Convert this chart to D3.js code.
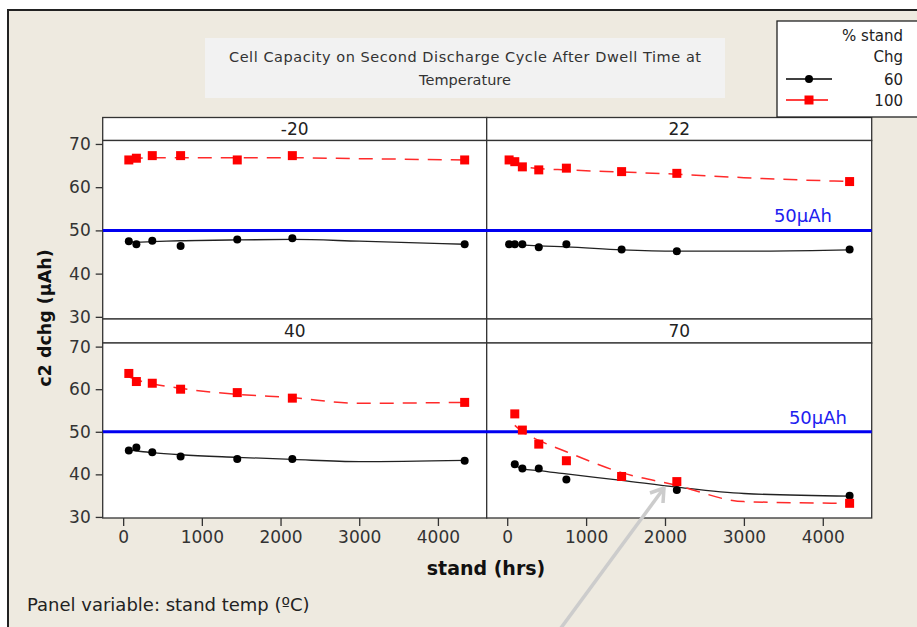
<!DOCTYPE html>
<html>
<head>
<meta charset="utf-8">
<style>
  body { margin: 0; background: #fff; }
  svg { display: block; font-family: "DejaVu Sans", sans-serif; }
</style>
</head>
<body>
<svg width="917" height="627"></svg>
<script src="https://d3js.org/d3.v7.min.js"></script>
<script>

// stand temperature panels (°C)
var panelTemps = ["-20", "22", "40", "70"];

// stand time (hrs) for the points in each panel
var hoursLeft = [72, 168, 370, 730, 1450, 2150, 4340];
var hours22 = [24, 96, 192, 400, 750, 1450, 2150, 4340];
var hours70 = [96, 192, 400, 750, 1450, 2150, 4340];
var fitExtraHour = 3000;

// c2 dchg (µAh), 60 % stand charge
var chg60_m20 = [47.5, 46.8, 47.6, 46.4, 47.9, 48.2, 46.8];
var chg60_22 = [46.8, 46.8, 46.8, 46.1, 46.8, 45.6, 45.2, 45.6];
var chg60_40 = [45.6, 46.3, 45.2, 44.2, 43.6, 43.6, 43.2];
var chg60_70 = [42.4, 41.4, 41.4, 38.8, 39.4, 36.3, 35.0];

// c2 dchg (µAh), 100 % stand charge
var chg100_m20 = [66.3, 66.7, 67.3, 67.3, 66.3, 67.3, 66.3];
var chg100_22 = [66.3, 65.9, 64.7, 64.0, 64.4, 63.6, 63.2, 61.3];
var chg100_40 = [63.7, 61.8, 61.4, 60.0, 59.2, 57.9, 56.9];
var chg100_70 = [54.2, 50.4, 47.1, 43.2, 39.5, 38.3, 33.2];

// smoothed fit lines (at the point hours, with the 3000 hr value before the last)
var fit60_m20 = [47.3, 47.3, 47.4, 47.6, 47.8, 47.9, 47.5, 46.8];
var fit60_22 = [46.8, 46.7, 46.6, 46.4, 46.2, 45.5, 45.2, 45.2, 45.5];
var fit60_40 = [45.7, 45.5, 45.1, 44.6, 44.0, 43.5, 43.0, 43.3];
var fit60_70 = [42.2, 41.3, 40.9, 40.1, 38.6, 37.0, 35.5, 34.9];
var fit100_m20 = [66.5, 66.7, 66.8, 66.8, 66.8, 66.8, 66.6, 66.3];
var fit100_22 = [66.2, 65.5, 64.8, 64.3, 64.0, 63.5, 63.0, 62.2, 61.3];
var fit100_40 = [62.9, 62.2, 61.3, 60.2, 58.8, 58.0, 56.7, 56.9];
var fit100_70 = [51.5, 50.0, 48.0, 45.3, 40.4, 37.4, 33.6, 33.2];

var yTicks = [30, 40, 50, 60, 70];
var xTicks = [0, 1000, 2000, 3000, 4000];
var refLevel = 50;

var panels = [
  {temp: panelTemps[0], col: 0, row: 0, hours: hoursLeft, c60: chg60_m20, c100: chg100_m20, f60: fit60_m20, f100: fit100_m20},
  {temp: panelTemps[1], col: 1, row: 0, hours: hours22, c60: chg60_22, c100: chg100_22, f60: fit60_22, f100: fit100_22},
  {temp: panelTemps[2], col: 0, row: 1, hours: hoursLeft, c60: chg60_40, c100: chg100_40, f60: fit60_40, f100: fit100_40},
  {temp: panelTemps[3], col: 1, row: 1, hours: hours70, c60: chg60_70, c100: chg100_70, f60: fit60_70, f100: fit100_70}
];

var svg = d3.select("svg");

// background and frame
svg.append("rect").attr("x", 8).attr("y", 10).attr("width", 940).attr("height", 640)
    .attr("fill", "#eeeae0").attr("stroke", "#222").attr("stroke-width", 2);

// title box
svg.append("rect").attr("x", 205).attr("y", 38).attr("width", 520).attr("height", 60)
    .attr("fill", "#f2f2f2");
var title = svg.append("text").attr("text-anchor", "middle").attr("font-size", 14.5)
    .attr("fill", "#333");
title.append("tspan").attr("x", 465).attr("y", 62)
    .attr("textLength", 472).attr("lengthAdjust", "spacing")
    .text("Cell Capacity on Second Discharge Cycle After Dwell Time at");
title.append("tspan").attr("x", 465).attr("y", 85).text("Temperature");

// layout of the 2x2 panels
var colX = [[102.7, 486.7], [486.7, 871.7]];
var rows = [
  {strip: 117.5, top: 140.5, bottom: 319, dom: [29.5, 70.8]},
  {strip: 319, top: 343, bottom: 518, dom: [29.75, 70.85]}
];
var refLabelEnd = [832, 847];

var x = colX.map(function(c) {
  return d3.scaleLinear().domain([-260, 4620]).range(c);
});
var y = rows.map(function(r) {
  return d3.scaleLinear().domain(r.dom).range([r.bottom, r.top]);
});

panels.forEach(function(p) {
  var c = colX[p.col], r = rows[p.row];
  svg.append("rect").attr("x", c[0]).attr("y", r.strip)
      .attr("width", c[1] - c[0]).attr("height", r.top - r.strip)
      .attr("fill", "#fff").attr("stroke", "#333").attr("stroke-width", 1.3);
  svg.append("rect").attr("x", c[0]).attr("y", r.top)
      .attr("width", c[1] - c[0]).attr("height", r.bottom - r.top)
      .attr("fill", "#fff").attr("stroke", "#333").attr("stroke-width", 1.3);
  svg.append("text").attr("x", (c[0] + c[1]) / 2).attr("y", r.strip + 17.5)
      .attr("text-anchor", "middle").attr("font-size", 17).attr("fill", "#222")
      .text(p.temp);
});

// reference line at 50 µAh
rows.forEach(function(r, i) {
  var yy = y[i](refLevel);
  svg.append("line").attr("x1", colX[0][0]).attr("x2", colX[1][1])
      .attr("y1", yy).attr("y2", yy)
      .attr("stroke", "#0000f0").attr("stroke-width", 3);
  svg.append("text").attr("x", refLabelEnd[i]).attr("y", yy - 8)
      .attr("text-anchor", "end").attr("font-size", 18).attr("fill", "#2020f0")
      .text("50µAh");
});

// fitted lines and points
panels.forEach(function(p) {
  var xs = x[p.col], ys = y[p.row];
  var fitHours = p.hours.slice(0, -1).concat([fitExtraHour, p.hours[p.hours.length - 1]]);
  var line = d3.line()
      .x(function(d, i) { return xs(fitHours[i]); })
      .y(function(d) { return ys(d); })
      .curve(d3.curveMonotoneX);

  svg.append("path").attr("d", line(p.f60))
      .attr("fill", "none").attr("stroke", "#222").attr("stroke-width", 1.3);
  svg.append("path").attr("d", line(p.f100))
      .attr("fill", "none").attr("stroke", "#ff2a2a").attr("stroke-width", 1.5)
      .attr("stroke-dasharray", "14,9");

  svg.append("g").selectAll("circle").data(p.c60).join("circle")
      .attr("cx", function(d, i) { return xs(p.hours[i]); })
      .attr("cy", function(d) { return ys(d); })
      .attr("r", 4).attr("fill", "#000");
  svg.append("g").selectAll("rect").data(p.c100).join("rect")
      .attr("x", function(d, i) { return xs(p.hours[i]) - 4.5; })
      .attr("y", function(d) { return ys(d) - 4.5; })
      .attr("width", 9).attr("height", 9).attr("fill", "#ff0000");
});

// axes
rows.forEach(function(r, i) {
  var g = svg.append("g").attr("transform", "translate(" + colX[0][0] + ",0)")
      .call(d3.axisLeft(y[i]).tickValues(yTicks).tickSize(7).tickPadding(5));
  g.select(".domain").remove();
  g.selectAll("line").attr("stroke", "#333").attr("stroke-width", 1.3);
  g.selectAll("text").attr("font-size", 17).attr("fill", "#333")
      .attr("font-family", "DejaVu Sans, sans-serif");
});
x.forEach(function(xs) {
  var g = svg.append("g").attr("transform", "translate(0," + rows[1].bottom + ")")
      .call(d3.axisBottom(xs).tickValues(xTicks).tickFormat(d3.format("d"))
        .tickSize(8).tickPadding(5));
  g.select(".domain").remove();
  g.selectAll("line").attr("stroke", "#333").attr("stroke-width", 1.3);
  g.selectAll("text").attr("font-size", 17).attr("fill", "#333")
      .attr("font-family", "DejaVu Sans, sans-serif");
});

svg.append("text").attr("x", 486).attr("y", 575).attr("text-anchor", "middle")
    .attr("font-size", 19).attr("font-weight", "bold").attr("fill", "#111")
    .text("stand (hrs)");
svg.append("text").attr("transform", "translate(51,318) rotate(-90)")
    .attr("text-anchor", "middle").attr("font-size", 17.5).attr("font-weight", "bold")
    .attr("fill", "#111").text("c2 dchg (µAh)");

svg.append("text").attr("x", 27).attr("y", 611).attr("font-size", 18)
    .attr("fill", "#222").text("Panel variable: stand temp (ºC)");

// legend
var lg = svg.append("g");
lg.append("rect").attr("x", 777).attr("y", 21).attr("width", 160).attr("height", 96)
    .attr("fill", "#fff").attr("stroke", "#222").attr("stroke-width", 1.3);
lg.append("text").attr("x", 903).attr("y", 41).attr("text-anchor", "end")
    .attr("font-size", 15).attr("fill", "#222").text("% stand");
lg.append("text").attr("x", 903).attr("y", 62).attr("text-anchor", "end")
    .attr("font-size", 15).attr("fill", "#222").text("Chg");
lg.append("line").attr("x1", 786).attr("x2", 832).attr("y1", 79).attr("y2", 79)
    .attr("stroke", "#000").attr("stroke-width", 1.3);
lg.append("circle").attr("cx", 809).attr("cy", 79).attr("r", 4).attr("fill", "#000");
lg.append("text").attr("x", 903).attr("y", 84.5).attr("text-anchor", "end")
    .attr("font-size", 15).attr("fill", "#222").text("60");
lg.append("line").attr("x1", 786).attr("x2", 828).attr("y1", 100).attr("y2", 100)
    .attr("stroke", "#ff0000").attr("stroke-width", 1.3);
lg.append("rect").attr("x", 804.5).attr("y", 95.5).attr("width", 9).attr("height", 9)
    .attr("fill", "#ff0000");
lg.append("text").attr("x", 903).attr("y", 105.5).attr("text-anchor", "end")
    .attr("font-size", 15).attr("fill", "#222").text("100");

// grey annotation arrow
svg.append("line").attr("x1", 558).attr("y1", 632).attr("x2", 664).attr("y2", 488)
    .attr("stroke", "#cccccc").attr("stroke-width", 3.5);
svg.append("polyline").attr("points", "650,493 664,488 663,503")
    .attr("fill", "none").attr("stroke", "#cccccc").attr("stroke-width", 3.5)
    .attr("stroke-linejoin", "round");

</script>
</body>
</html>
